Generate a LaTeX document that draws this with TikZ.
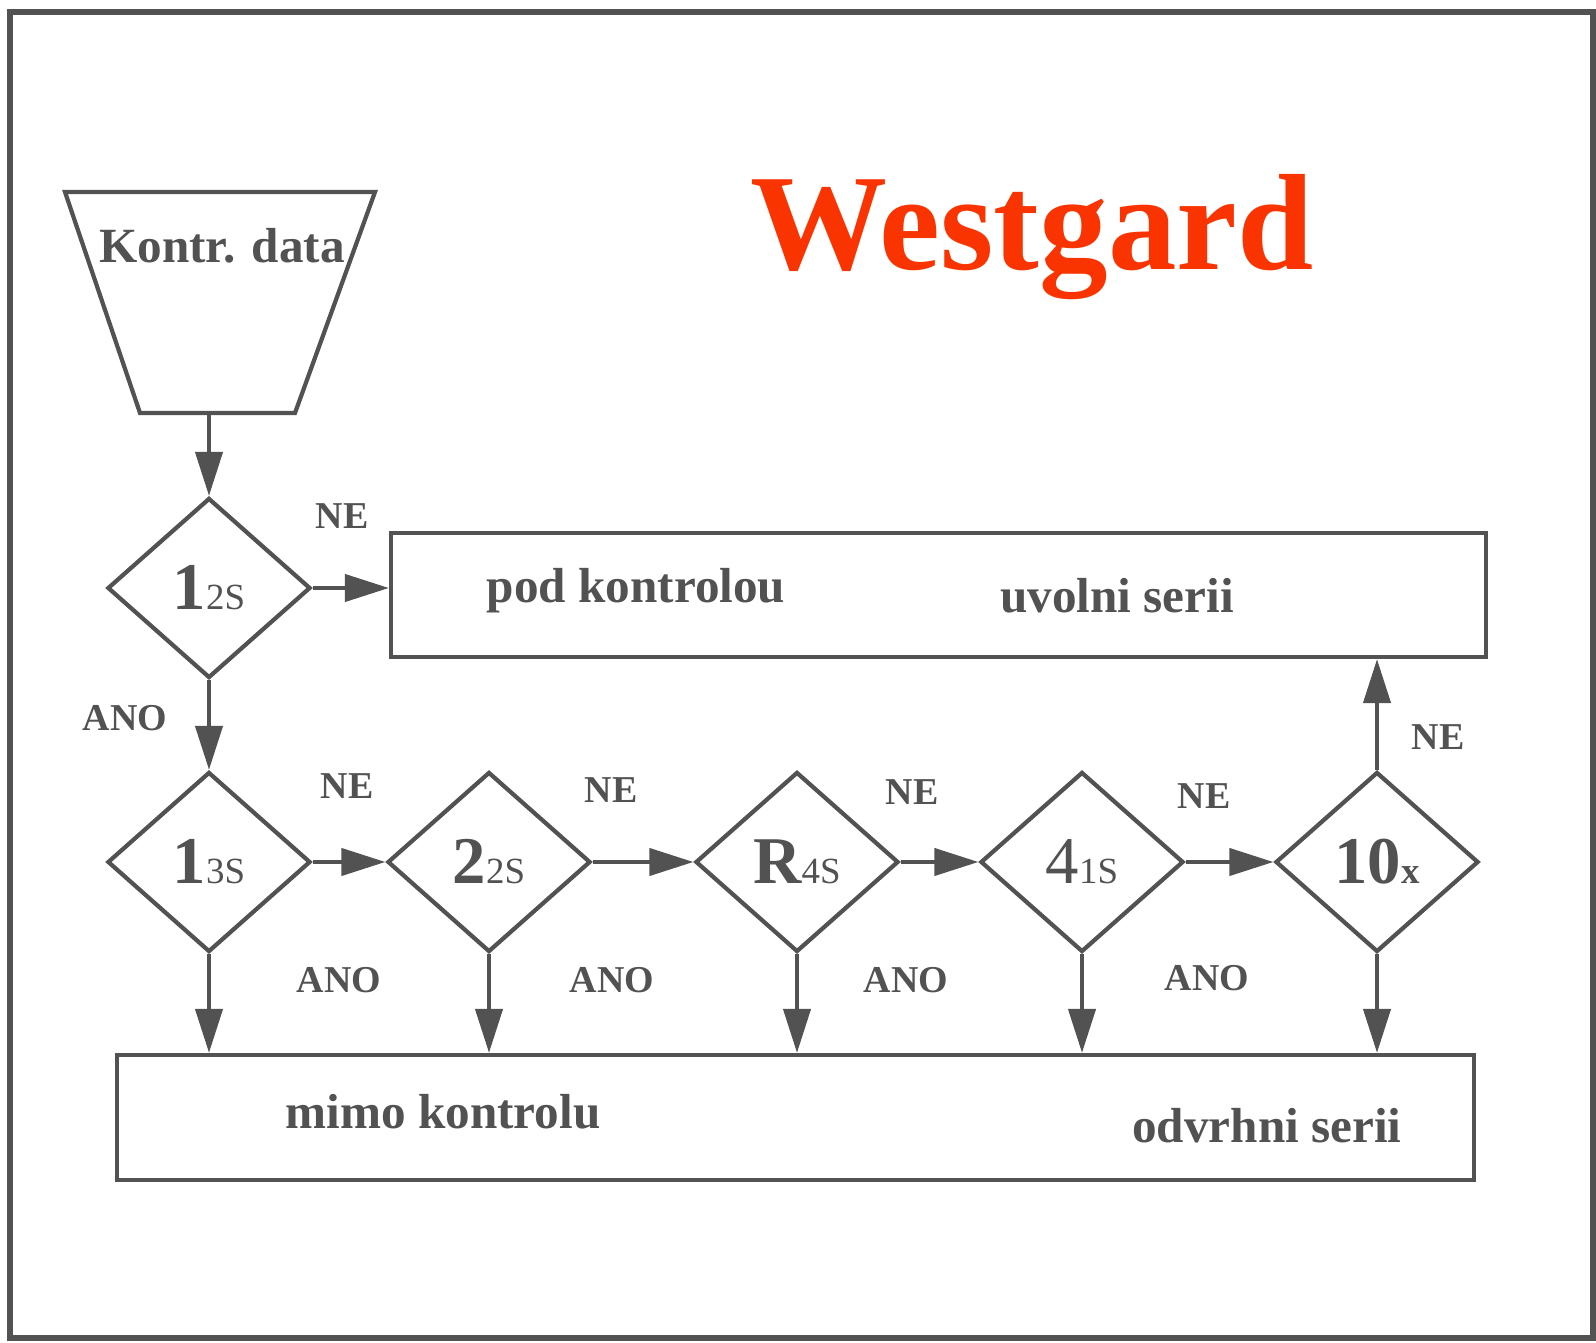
\documentclass[tikz,border=0pt]{standalone}
\usepackage{fontspec}
\setmainfont{Liberation Serif}
\usetikzlibrary{shapes.geometric,arrows.meta}
\definecolor{ink}{RGB}{82,82,82}
\definecolor{titlered}{RGB}{250,52,0}
\newcommand{\wrule}[2]{{\fontsize{19}{20}\selectfont\bfseries #1}{\fontsize{10.5}{12}\selectfont #2}}

\begin{document}
\begin{tikzpicture}[
      test/.style={draw=ink,line width=1.2pt,diamond,inner sep=0pt,minimum width=2.03cm,minimum height=1.8cm,text=ink},
      outcome/.style={draw=ink,line width=1.2pt,rectangle,inner sep=0pt},
      ans/.style={text=ink,font=\fontsize{10.8}{12}\selectfont\bfseries,inner sep=0pt},
      big/.style={text=ink,font=\fontsize{14}{16}\selectfont\bfseries,inner sep=0pt,anchor=base},
      flow/.style={draw=ink,line width=1.2pt,-{Triangle[length=4.4mm,width=2.7mm]}}]
    \useasboundingbox (0,0) rectangle (15.96,-13.43);
    \draw[ink,line width=1.5pt] (0.10,-0.12) rectangle (15.93,-13.38);
    \node[titlered,font=\fontsize{39}{44}\selectfont\bfseries,inner sep=0pt,anchor=base] (title) at (10.32,-2.70) {Westgard};
    % input and the first check
    \draw[ink,line width=1.2pt] (0.65,-1.92) -- (3.75,-1.92) -- (2.95,-4.13) -- (1.40,-4.13) -- cycle;
    \coordinate (srcb) at (2.09,-4.13);
    \node[big] (srcl) at (2.22,-2.63) {Kontr. data};
    \node[test] (d1) at (2.09,-5.88) {\wrule{1}{2S}};
    % the two outcome boxes
    \node[outcome,minimum width=10.95cm,minimum height=1.24cm] (ok) at (9.385,-5.95) {};
    \node[outcome,minimum width=13.57cm,minimum height=1.25cm] (out) at (7.955,-11.175) {};
    \node[big] (okl) at (6.36,-6.03) {pod kontrolou};
    \node[big] (okr) at (11.17,-6.13) {uvolni serii};
    \node[big] (outl) at (4.43,-11.28) {mimo kontrolu};
    \node[big] (outr) at (12.67,-11.42) {odvrhni serii};
    % row of rules
    \foreach \i/\x/\t in {2/2.09/{\wrule{1}{3S}}, 3/4.89/{\wrule{2}{2S}},
        4/7.97/{\wrule{R}{4S}}, 5/10.82/{\wrule{\mdseries 4}{1S}},
        6/13.77/{\wrule{10}{\bfseries x}}}
      \node[test] (d\i) at (\x,-8.62) {\t};
    \draw[flow] (srcb) -- (d1.north);
    \draw[flow] (d1.east) -- (d1.east -| ok.west);
    \draw[flow] (d1.south) -- (d2.north);
    \foreach \a/\b in {2/3,3/4,4/5,5/6}
      \draw[flow] (d\a.east) -- (d\b.west);
    \foreach \i in {2,...,6}
      \draw[flow] (d\i.south) -- (d\i.south |- out.north);
    \draw[flow] (d6.north) -- (d6.north |- ok.south);
    % answers
    \node[ans] (ne1) at (3.42,-5.16) {NE};
    \node[ans] (ano1) at (1.25,-7.18) {ANO};
    \foreach \i/\x/\y in {2/3.47/-7.86, 3/6.11/-7.90, 4/9.12/-7.92, 5/12.04/-7.96}
      \node[ans] (ne\i) at (\x,\y) {NE};
    \foreach \i/\x/\y in {2/3.39/-9.80, 3/6.12/-9.80, 4/9.06/-9.80, 5/12.07/-9.78}
      \node[ans] (ano\i) at (\x,\y) {ANO};
    \node[ans] (ne6) at (14.38,-7.37) {NE};
  \end{tikzpicture}
\end{document}
